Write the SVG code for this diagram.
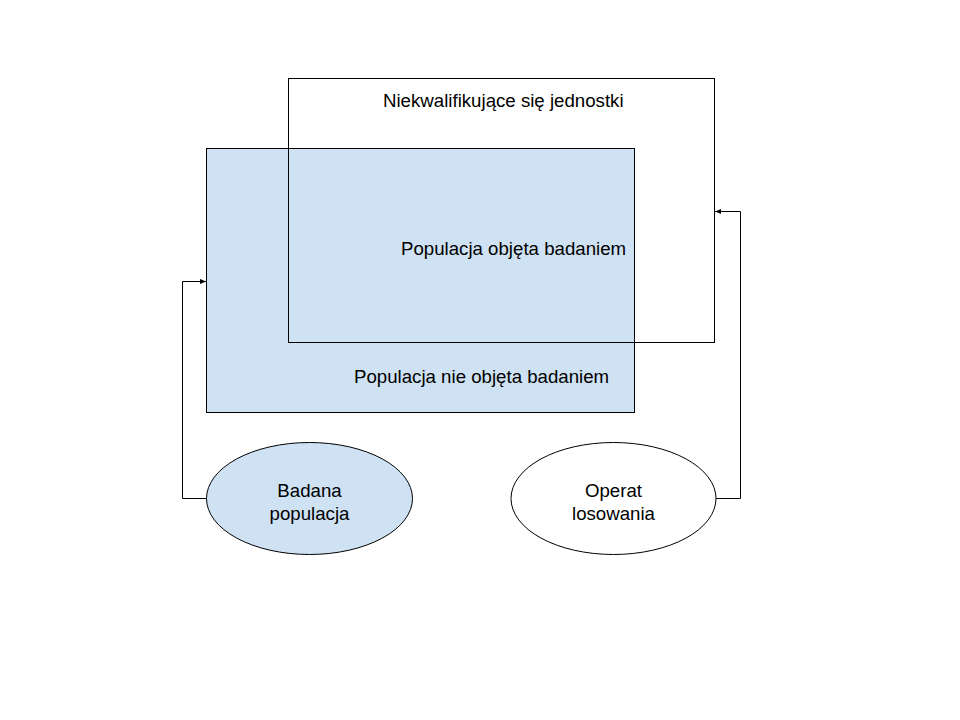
<svg xmlns="http://www.w3.org/2000/svg" width="960" height="720" viewBox="0 0 960 720">
<style>
text{font-family:"Liberation Sans",Arial,sans-serif;font-size:18.67px;fill:#000}
.s{stroke:#000;stroke-width:1}
</style>
<defs>
<marker id="ah" viewBox="0 0 10 10" refX="10" refY="5" markerWidth="6" markerHeight="6" orient="auto" markerUnits="userSpaceOnUse">
<path d="M0,1 L10,5 L0,9 Z" fill="#000"/>
</marker>
</defs>
<rect width="960" height="720" fill="#fff"/>
<g id="populacja-nie-objeta">
<rect class="s" x="206.5" y="148.5" width="428" height="264" fill="#cfe2f3"/>
<text x="354" y="383">Populacja nie objęta badaniem</text>
</g>
<g id="niekwalifikujace">
<rect class="s" x="288.5" y="78.5" width="426" height="264" fill="none"/>
<text x="383" y="106.5">Niekwalifikujące się jednostki</text>
</g>
<g id="populacja-objeta">
<text x="401" y="254.5">Populacja objęta badaniem</text>
</g>
<g id="badana-populacja">
<ellipse class="s" cx="309.5" cy="498.5" rx="103" ry="56" fill="#cfe2f3"/>
<text x="309.5" y="497" text-anchor="middle">Badana</text>
<text x="309.5" y="520" text-anchor="middle">populacja</text>
</g>
<g id="operat-losowania">
<ellipse class="s" cx="613.5" cy="498.5" rx="102.5" ry="56" fill="#fff"/>
<text x="613.5" y="497" text-anchor="middle">Operat</text>
<text x="613.5" y="520" text-anchor="middle">losowania</text>
</g>
<g id="connectors" fill="none">
<path class="s" d="M206.5,498.5 H182.5 V281.5 H206" marker-end="url(#ah)"/>
<path class="s" d="M716,498.5 H740.5 V211.5 H715" marker-end="url(#ah)"/>
</g>
</svg>
